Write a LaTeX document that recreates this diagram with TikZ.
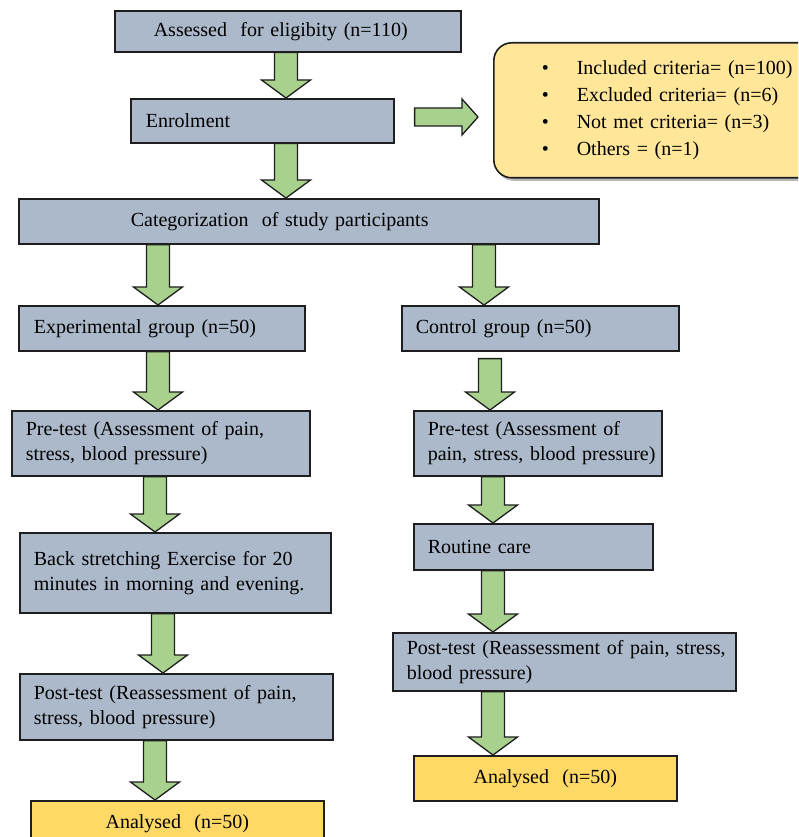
\documentclass[tikz,border=0pt]{standalone}
\usepackage{fontspec}
\setmainfont{Liberation Serif}
\usetikzlibrary{calc,shadows}
\definecolor{boxblue}{RGB}{172,185,202}
\definecolor{agreen}{RGB}{169,209,142}
\definecolor{ayellow}{RGB}{255,217,102}
\definecolor{cyellow}{RGB}{255,230,153}
\definecolor{edgec}{RGB}{30,30,30}
\begin{document}
\begin{tikzpicture}[x=1pt,y=-1pt,
  box/.style={draw=edgec, line width=1.6pt, fill=boxblue, anchor=north west, align=left,
    inner ysep=0pt, font=\fontsize{20}{25}\selectfont},
  abox/.style={box, fill=ayellow, align=center, inner xsep=0pt},
  critbox/.style={box, fill=cyellow, rounded corners=18pt, font=\fontsize{20}{27}\selectfont,
    drop shadow={shadow xshift=2pt, shadow yshift=-3pt, fill=gray!70, opacity=0.8}},
  garrow/.style={draw=edgec, line width=1.3pt, fill=agreen, line join=miter,
    to path={let \p1=(\tikztostart), \p2=(\tikztotarget) in
      (#1pt-11.5pt,\y1) -- (#1pt-11.5pt,\y2+18pt) -- (#1pt-24.5pt,\y2+18pt) -- (#1pt,\y2)
      -- (#1pt+24.5pt,\y2+18pt) -- (#1pt+11.5pt,\y2+18pt) -- (#1pt+11.5pt,\y1) -- cycle}},
  harrow/.style={draw=edgec, line width=1.3pt, fill=agreen, line join=miter,
    to path={let \p1=(\tikztostart), \p2=(\tikztotarget) in
      (\x1,-#1pt+9pt) -- (\x2-16pt,-#1pt+9pt) -- (\x2-16pt,-#1pt+18pt) -- (\x2,-#1pt)
      -- (\x2-16pt,-#1pt-18pt) -- (\x2-16pt,-#1pt-9pt) -- (\x1,-#1pt-9pt) -- cycle}}
]
\useasboundingbox (0,0) rectangle (798,837);
\clip (0,0) rectangle (798,837);

% boxes
\node[box, text width=268pt, inner xsep=39pt, minimum height=41pt] (assess) at (114,10)
  {\mbox{Assessed\ \ for eligibity (n=110)}};
\node[box, text width=233pt, inner xsep=15pt, minimum height=44pt] (enrol) at (130,98)
  {\mbox{Enrolment}};
\node[critbox, text width=226pt, inner xsep=48pt, minimum height=135pt] (crit) at (493,42)
  {\mbox{\makebox[35pt][l]{\textbullet}Included criteria= (n=100)}\\
   \mbox{\makebox[35pt][l]{\textbullet}Excluded criteria= (n=6)}\\
   \mbox{\makebox[35pt][l]{\textbullet}Not met criteria= (n=3)}\\
   \mbox{\makebox[35pt][l]{\textbullet}Others = (n=1)}};
\node[box, text width=356pt, inner xsep=112pt, minimum height=45pt] (categ) at (18,198)
  {\mbox{Categorization\ \ of study participants}};
\node[box, text width=256pt, inner xsep=15pt, minimum height=45pt] (exp) at (18,305)
  {\mbox{Experimental group (n=50)}};
\node[box, text width=249pt, inner xsep=14pt, minimum height=45pt] (ctrl) at (401,305)
  {\mbox{Control group (n=50)}};
\node[box, text width=270pt, inner xsep=14pt, minimum height=65pt] (preL) at (11,410)
  {\mbox{Pre-test (Assessment of pain,}\\\mbox{stress, blood pressure)}};
\node[box, text width=220pt, inner xsep=14pt, minimum height=65pt] (preR) at (413,410)
  {\mbox{Pre-test (Assessment of}\\\mbox{pain, stress, blood pressure)}};
\node[box, text width=283pt, inner xsep=14pt, minimum height=80pt] (back) at (19,532)
  {\mbox{Back stretching Exercise for 20}\\\mbox{minutes in morning and evening.}};
\node[box, text width=211pt, inner xsep=14pt, minimum height=46pt] (routine) at (413,523)
  {\mbox{Routine care}};
\node[box, text width=285pt, inner xsep=14pt, minimum height=66pt] (postL) at (19,673)
  {\mbox{Post-test (Reassessment of pain,}\\\mbox{stress, blood pressure)}};
\node[box, text width=315pt, inner xsep=14pt, minimum height=58pt] (postR) at (392,632)
  {\mbox{Post-test (Reassessment of pain, stress,}\\\mbox{blood pressure)}};
\node[abox, text width=293pt, minimum height=45pt] (anaL) at (30,800)
  {\mbox{Analysed\ \ (n=50)}};
\node[abox, text width=263pt, minimum height=45pt] (anaR) at (413,755)
  {\mbox{Analysed\ \ (n=50)}};

% arrows
\draw[garrow=286] (assess.south) to (enrol.north);
\draw[garrow=286] (enrol.south) to (categ.north);
\draw[harrow=117] ([xshift=20pt]enrol.east) to ([xshift=-15pt]crit.west);
\draw[garrow=158] (categ.south) to (exp.north);
\draw[garrow=484] (categ.south) to (ctrl.north);
\draw[garrow=158] (exp.south) to (preL.north);
\draw[garrow=490] ([yshift=-7pt]ctrl.south) to (preR.north);
\draw[garrow=155] (preL.south) to (back.north);
\draw[garrow=493] (preR.south) to (routine.north);
\draw[garrow=163] (back.south) to (postL.north);
\draw[garrow=493] (routine.south) to (postR.north);
\draw[garrow=155] (postL.south) to (anaL.north);
\draw[garrow=493] (postR.south) to (anaR.north);
\end{tikzpicture}
\end{document}
